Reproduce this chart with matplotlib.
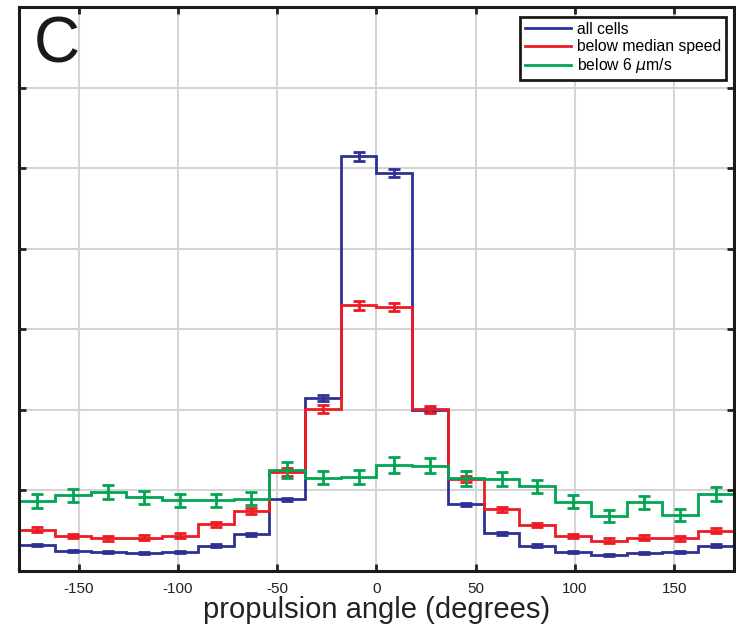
import matplotlib.pyplot as plt
import numpy as np

plt.rcParams['font.family'] = ['Liberation Sans', 'DejaVu Sans']
plt.rcParams['axes.unicode_minus'] = False

# 18 degree bins from -180 to 180
bin_edges = np.arange(-180, 181, 18)
bin_centres = bin_edges[:-1] + 9

# histogram heights (arbitrary units, one grid step = 1)
all_cells = [0.32, 0.25, 0.23, 0.22, 0.24, 0.315, 0.455, 0.89, 2.15, 5.15,
             4.94, 2.0, 0.83, 0.47, 0.315, 0.23, 0.2, 0.225, 0.24, 0.315]
all_cells_err = [0.015, 0.012, 0.012, 0.012, 0.012, 0.015, 0.018, 0.02, 0.04, 0.055,
                 0.05, 0.03, 0.02, 0.018, 0.015, 0.012, 0.012, 0.012, 0.012, 0.015]

below_median = [0.51, 0.435, 0.405, 0.415, 0.44, 0.58, 0.745, 1.23, 2.01, 3.30,
                3.28, 2.01, 1.14, 0.765, 0.57, 0.435, 0.375, 0.415, 0.405, 0.50]
below_median_err = [0.03, 0.03, 0.03, 0.03, 0.03, 0.03, 0.035, 0.045, 0.05, 0.055,
                    0.055, 0.045, 0.04, 0.035, 0.03, 0.03, 0.03, 0.03, 0.03, 0.03]

below_6 = [0.87, 0.94, 0.98, 0.915, 0.88, 0.88, 0.90, 1.255, 1.16, 1.17,
           1.315, 1.31, 1.15, 1.145, 1.05, 0.86, 0.685, 0.855, 0.695, 0.955]
below_6_err = [0.083, 0.08, 0.085, 0.08, 0.08, 0.08, 0.085, 0.097, 0.085, 0.085,
               0.1, 0.095, 0.09, 0.09, 0.085, 0.08, 0.072, 0.08, 0.075, 0.085]

series = [
    ('all cells', all_cells, all_cells_err, '#2e3192'),
    ('below median speed', below_median, below_median_err, '#ed1c24'),
    (r'below 6 $\mu$m/s', below_6, below_6_err, '#00a651'),
]

fig = plt.figure(figsize=(7.36, 6.24), dpi=100)
ax = fig.add_axes([0.026, 0.085, 0.971, 0.903])

for name, vals, errs, col in series:
    ax.stairs(vals, bin_edges, baseline=0, color=col, linewidth=2, label=name, zorder=2)
    ax.errorbar(bin_centres, vals, yerr=errs, fmt='none', ecolor=col,
                elinewidth=2, capsize=4.5, capthick=2, zorder=2)

ax.set_xlim(-180, 180)
ax.set_ylim(0, 7)
ax.set_xticks([-150, -100, -50, 0, 50, 100, 150])
ax.set_yticks(range(1, 7))
ax.set_yticklabels([])
ax.grid(True, color='#d4d4d4', linewidth=1.5, zorder=0)
ax.set_axisbelow(True)
ax.tick_params(axis='both', direction='in', length=5, width=2, top=True, right=True,
               labelsize=11, colors='#222222')
ax.tick_params(axis='x', pad=8)
for sp in ax.spines.values():
    sp.set_linewidth(2.2)
    sp.set_color('#1a1a1a')

ax.set_xlabel('propulsion angle (degrees)', fontsize=21, color='#222222', labelpad=0)
ax.text(0.02, 0.985, 'C', transform=ax.transAxes, fontsize=46, va='top', ha='left',
        color='#1a1a1a')

leg = ax.legend(loc='upper right', fontsize=11.3, handlelength=2.9, handletextpad=0.4,
                borderpad=0.3, labelspacing=0.15, fancybox=False, framealpha=1,
                borderaxespad=0, bbox_to_anchor=(0.989, 0.983))
leg.get_frame().set_edgecolor('#1a1a1a')
leg.get_frame().set_linewidth(2)

fig.savefig('out.png', dpi=100)
